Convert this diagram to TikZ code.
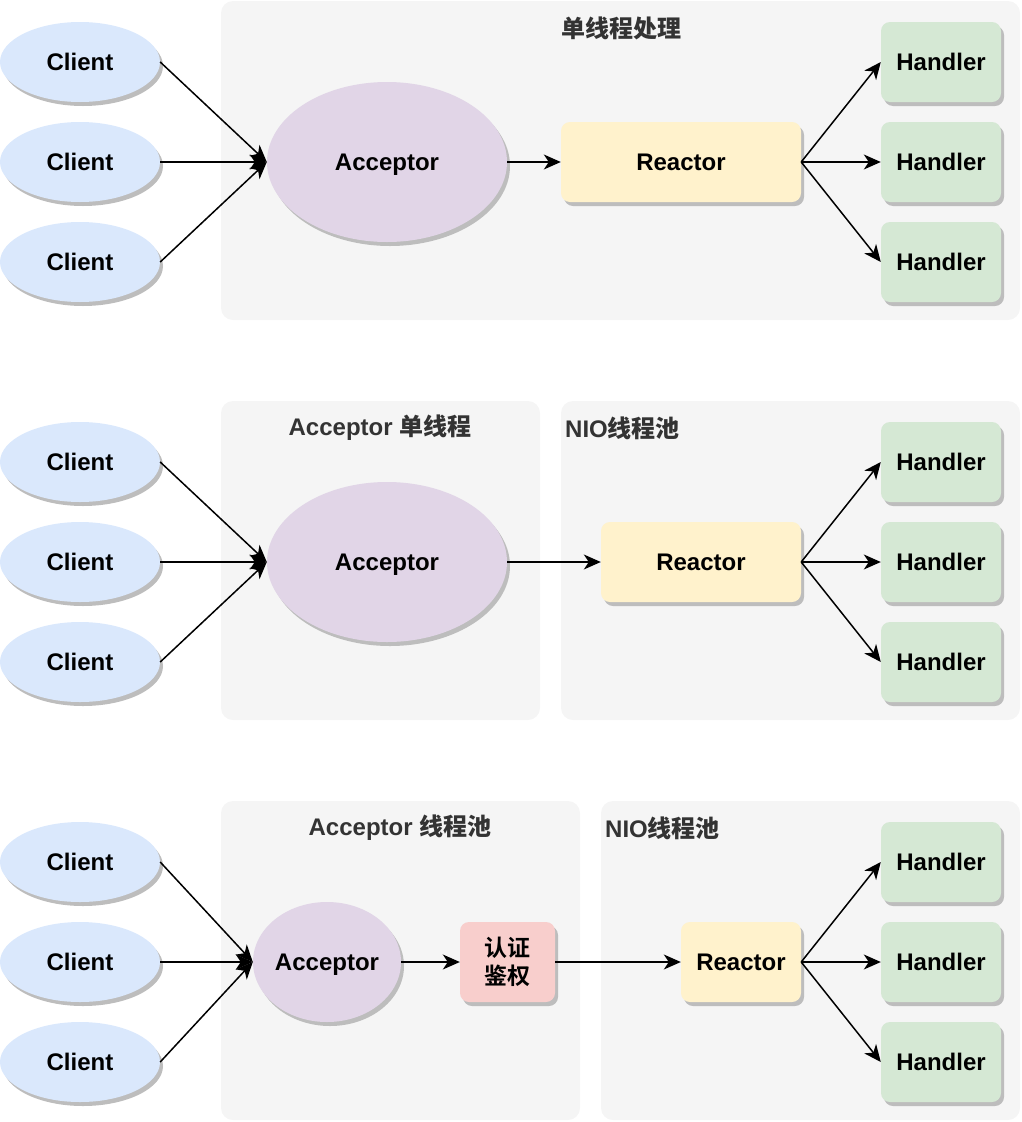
\documentclass[tikz,border=0pt]{standalone}
\usepackage{fontspec}
\setmainfont{Liberation Sans}
\newfontfamily\cjk{Noto Sans CJK SC Bold}
\usetikzlibrary{shapes.geometric,shadows,arrows.meta}
\definecolor{clientc}{HTML}{DAE8FC}
\definecolor{accc}{HTML}{E1D5E7}
\definecolor{reactc}{HTML}{FFF2CC}
\definecolor{handc}{HTML}{D5E8D4}
\definecolor{authc}{HTML}{F8CECC}
\definecolor{contc}{HTML}{F5F5F5}
\definecolor{titlec}{HTML}{333333}
\definecolor{shadc}{HTML}{BDBDBD}
\tikzset{
  shad/.style={drop shadow={shadow xshift=3pt,shadow yshift=-4pt,fill=shadc,opacity=1}},
  lbl/.style={font=\fontsize{24}{28}\selectfont\bfseries, text=black, text depth=0pt},
  client/.style={ellipse,shad,fill=clientc,minimum width=160pt,minimum height=80pt,inner sep=0pt,lbl},
  acceptor/.style={ellipse,shad,fill=accc,inner sep=0pt,lbl},
  reactor/.style={rectangle,rounded corners=9pt,shad,fill=reactc,minimum height=80pt,inner sep=0pt,lbl},
  handler/.style={rectangle,rounded corners=9pt,shad,fill=handc,minimum width=120pt,minimum height=80pt,inner sep=0pt,lbl},
  auth/.style={rectangle,rounded corners=9pt,shad,fill=authc,minimum width=95pt,minimum height=80pt,inner sep=0pt,font=\fontsize{23}{28}\selectfont,align=center},
  ttl/.style={font=\fontsize{24}{28}\selectfont\bfseries, text=titlec, inner sep=0pt},
  arr/.style={line width=1.5pt,-{Stealth[length=17pt,width=15pt,inset=5pt]}},
}
\begin{document}
\begin{tikzpicture}[x=1pt,y=-1pt]
\useasboundingbox (0,0) rectangle (1022,1122);
% containers
\fill[contc,rounded corners=12pt] (221,1) rectangle (1020,320);
\fill[contc,rounded corners=12pt] (221,401) rectangle (540,720);
\fill[contc,rounded corners=12pt] (561,401) rectangle (1020,720);
\fill[contc,rounded corners=12pt] (221,801) rectangle (580,1120);
\fill[contc,rounded corners=12pt] (601,801) rectangle (1020,1120);
\node[ttl] (t1) at (621,28) {\cjk 单线程处理};
\node[ttl] (t2) at (380,428) {Acceptor {\cjk 单线程}};
\node[ttl,anchor=west] (t3) at (565,428) {NIO{\cjk 线程池}};
\node[ttl] (t4) at (400,828) {Acceptor {\cjk 线程池}};
\node[ttl,anchor=west] (t5) at (605,828) {NIO{\cjk 线程池}};
% section 1
\node[client] (c11) at (80,62) {Client};
\node[client] (c12) at (80,162) {Client};
\node[client] (c13) at (80,262) {Client};
\node[acceptor,minimum width=240pt,minimum height=160pt] (a1) at (387,162) {Acceptor};
\node[reactor,minimum width=240pt] (r1) at (681,162) {Reactor};
\node[handler] (h11) at (941,62) {Handler};
\node[handler] (h12) at (941,162) {Handler};
\node[handler] (h13) at (941,262) {Handler};
\draw[arr] (c11.east) -- (a1.west);
\draw[arr] (c12.east) -- (a1.west);
\draw[arr] (c13.east) -- (a1.west);
\draw[arr] (a1.east) -- (r1.west);
\draw[arr] (r1.east) -- (h11.west);
\draw[arr] (r1.east) -- (h12.west);
\draw[arr] (r1.east) -- (h13.west);
% section 2
\node[client] (c21) at (80,462) {Client};
\node[client] (c22) at (80,562) {Client};
\node[client] (c23) at (80,662) {Client};
\node[acceptor,minimum width=240pt,minimum height=160pt] (a2) at (387,562) {Acceptor};
\node[reactor,minimum width=200pt] (r2) at (701,562) {Reactor};
\node[handler] (h21) at (941,462) {Handler};
\node[handler] (h22) at (941,562) {Handler};
\node[handler] (h23) at (941,662) {Handler};
\draw[arr] (c21.east) -- (a2.west);
\draw[arr] (c22.east) -- (a2.west);
\draw[arr] (c23.east) -- (a2.west);
\draw[arr] (a2.east) -- (r2.west);
\draw[arr] (r2.east) -- (h21.west);
\draw[arr] (r2.east) -- (h22.west);
\draw[arr] (r2.east) -- (h23.west);
% section 3
\node[client] (c31) at (80,862) {Client};
\node[client] (c32) at (80,962) {Client};
\node[client] (c33) at (80,1062) {Client};
\node[acceptor,minimum width=148pt,minimum height=120pt] (a3) at (327,962) {Acceptor};
\node[auth] (au) at (507.5,962) {\cjk 认证\\\cjk 鉴权};
\node[reactor,minimum width=120pt] (r3) at (741,962) {Reactor};
\node[handler] (h31) at (941,862) {Handler};
\node[handler] (h32) at (941,962) {Handler};
\node[handler] (h33) at (941,1062) {Handler};
\draw[arr] (c31.east) -- (a3.west);
\draw[arr] (c32.east) -- (a3.west);
\draw[arr] (c33.east) -- (a3.west);
\draw[arr] (a3.east) -- (au.west);
\draw[arr] (au.east) -- (r3.west);
\draw[arr] (r3.east) -- (h31.west);
\draw[arr] (r3.east) -- (h32.west);
\draw[arr] (r3.east) -- (h33.west);
\end{tikzpicture}
\end{document}
